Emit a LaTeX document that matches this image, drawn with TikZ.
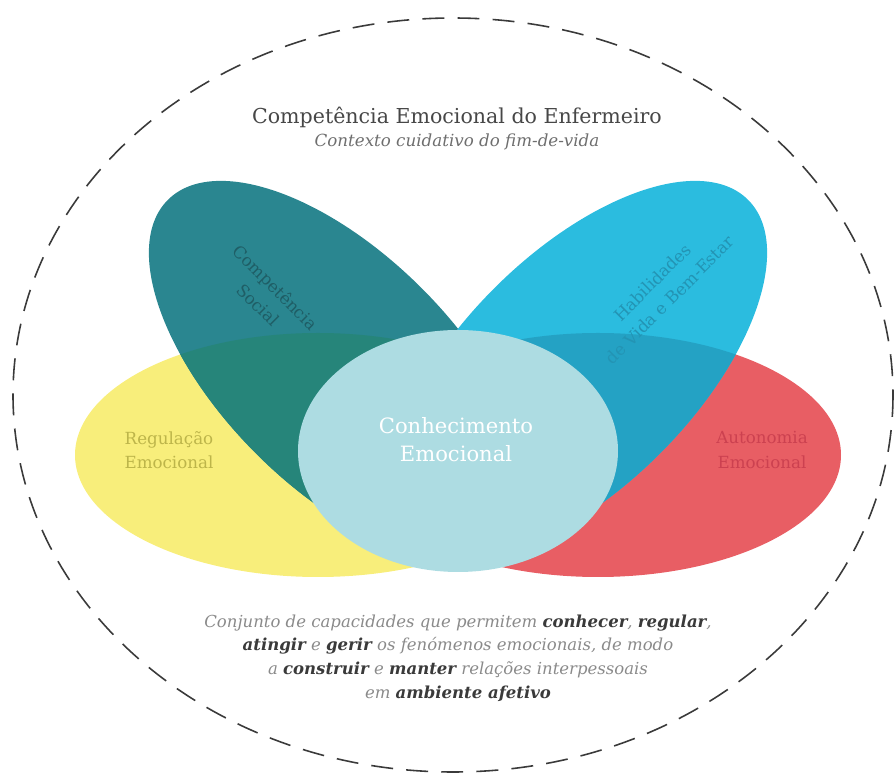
\documentclass[tikz,border=0pt]{standalone}
\usepackage{fontspec}
\setmainfont{DejaVu Serif}
\usepackage{tikz}

\definecolor{socialcol}{HTML}{2A8690}
\definecolor{bemestarcol}{HTML}{2BBCDF}
\definecolor{regulacol}{HTML}{F8EE7B}
\definecolor{autonomcol}{HTML}{E85E64}
\definecolor{conhecol}{HTML}{ADDCE2}
\definecolor{socialregula}{HTML}{26857A}
\definecolor{bemestarautonom}{HTML}{24A2C4}
\definecolor{socialtxt}{HTML}{1F5E66}
\definecolor{bemestartxt}{HTML}{2394B4}
\definecolor{regulatxt}{HTML}{BDB54A}
\definecolor{autonomtxt}{HTML}{CC4150}
\definecolor{titletxt}{HTML}{474747}
\definecolor{subtxt}{HTML}{6E6E6E}
\definecolor{softtxt}{HTML}{8A8A8A}
\definecolor{strongtxt}{HTML}{3A3A3A}

\newcommand{\destaque}[1]{\textcolor{strongtxt}{\textbf{#1}}}
% leaf outlines
\newcommand{\socialleaf}{[rotate around={-45:(339,371)}] (339,371) ellipse [x radius=242, y radius=117]}
\newcommand{\bemestarleaf}{[rotate around={45:(577,371)}] (577,371) ellipse [x radius=242, y radius=117]}
\newcommand{\regulaleaf}{(318,455) ellipse [x radius=243, y radius=122]}
\newcommand{\autonomleaf}{(598,455) ellipse [x radius=243, y radius=122]}

\tikzset{
  leaflabel/.style={align=center, font=\fontsize{9.5}{14}\selectfont},
  contexto/.style={dashed, dash pattern=on 12.5pt off 7.5pt, line width=0.9pt, color=strongtxt}
}

\begin{document}
\begin{tikzpicture}[x=0.02cm, y=-0.02cm]
  \useasboundingbox (0,0) rectangle (894,776);

  \draw[contexto] (453,395) ellipse [x radius=440, y radius=377];

  \fill[regulacol] \regulaleaf;
  \fill[autonomcol] \autonomleaf;
  \fill[socialcol] \socialleaf;
  \fill[bemestarcol] \bemestarleaf;

  \begin{scope}
    \clip \socialleaf;
    \fill[socialregula] \regulaleaf;
  \end{scope}
  \begin{scope}
    \clip \bemestarleaf;
    \fill[bemestarautonom] \autonomleaf;
  \end{scope}

  \fill[conhecol] (458,451) ellipse [x radius=160, y radius=121];

  \draw (457,117) node (titulo) {\fontsize{11.7}{13}\selectfont\textcolor{titletxt}{Competência Emocional do Enfermeiro}};
  \draw (457,142) node (contexto) {\fontsize{9.5}{11}\selectfont\textcolor{subtxt}{\textit{Contexto cuidativo do fim-de-vida}}};

  \draw (267,296) node[leaflabel, rotate=-45, text=socialtxt] (social) {Competência\\Social};
  \draw (661,291) node[leaflabel, rotate=45, text=bemestartxt] (bemestar) {Habilidades\\de Vida e Bem-Estar};
  \draw (169,450) node[leaflabel, text=regulatxt] (regula) {Regulação\\Emocional};
  \draw (762,450) node[leaflabel, text=autonomtxt] (autonom) {Autonomia\\Emocional};
  \draw (456,440) node[align=center, font=\fontsize{12}{16}\selectfont, text=white] (conhece) {Conhecimento\\Emocional};

  \draw (458,658) node[align=center, font=\fontsize{9.4}{13.4}\selectfont\itshape, text=softtxt] (definicao)
    {Conjunto de capacidades que permitem \destaque{conhecer}, \destaque{regular},\\
     \destaque{atingir} e \destaque{gerir} os fenómenos emocionais, de modo\\
     a \destaque{construir} e \destaque{manter} relações interpessoais\\
     em \destaque{ambiente afetivo}};

\end{tikzpicture}
\end{document}
